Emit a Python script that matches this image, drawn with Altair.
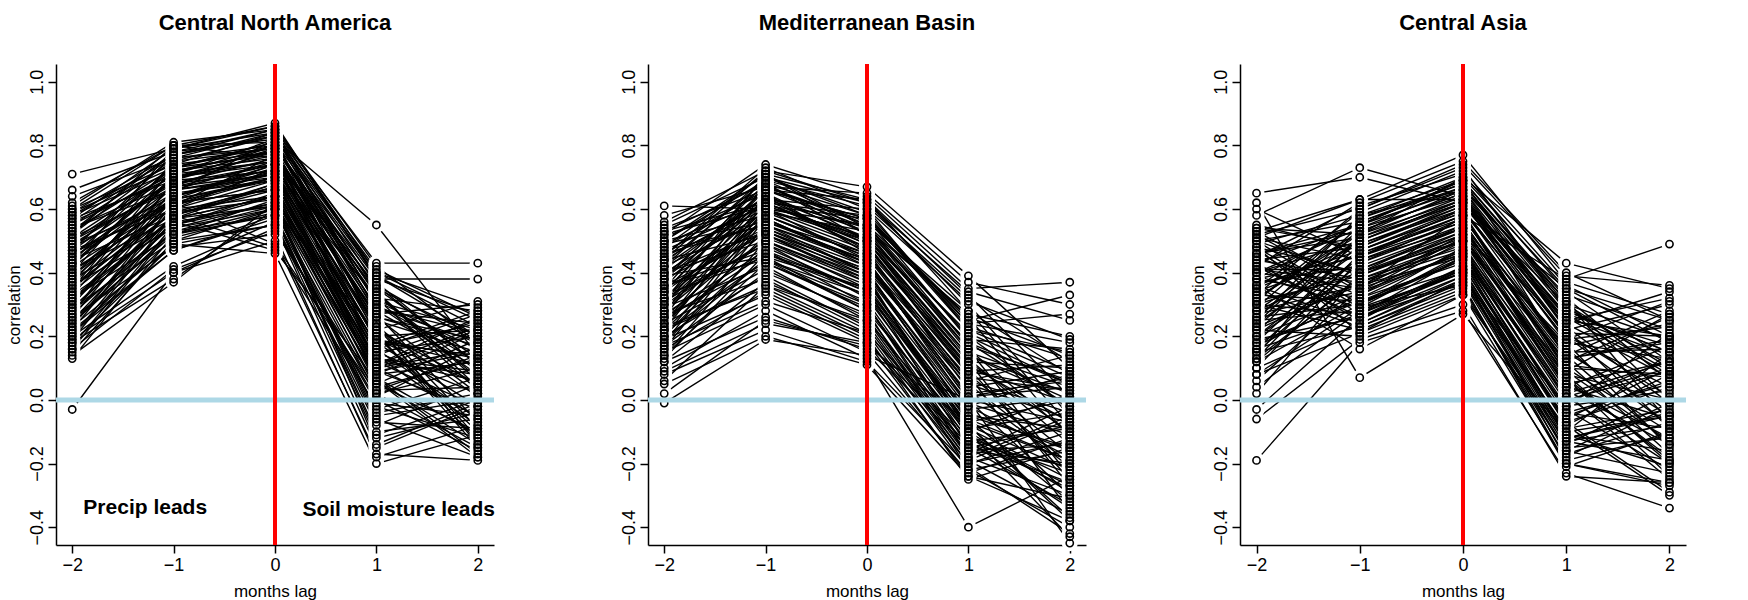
import altair as alt
import pandas as pd

LAGS = [-2, -1, 0, 1, 2]
TITLES = ["Central North America", "Mediterranean Basin", "Central Asia"]
Y_TICKS = [-0.4, -0.2, 0.0, 0.2, 0.4, 0.6, 0.8, 1.0]

# each row: correlation at lags -2, -1, 0, 1, 2 (one ensemble member)
CNA = [
    [0.71, 0.79, 0.84, 0.30, 0.12], [0.66, 0.78, 0.82, 0.22, 0.05], [0.64, 0.76, 0.80, 0.35, 0.20],
    [0.62, 0.80, 0.86, 0.40, 0.25], [0.61, 0.81, 0.85, 0.43, 0.43], [0.60, 0.74, 0.78, 0.18, -0.02],
    [0.59, 0.77, 0.83, 0.28, 0.10], [0.58, 0.72, 0.76, 0.12, 0.08], [0.57, 0.79, 0.87, 0.38, 0.38],
    [0.56, 0.70, 0.74, 0.25, 0.15], [0.55, 0.75, 0.79, 0.05, -0.10], [0.54, 0.68, 0.72, 0.32, 0.28],
    [0.53, 0.73, 0.77, 0.15, 0.02], [0.52, 0.80, 0.81, 0.20, 0.22], [0.51, 0.66, 0.70, 0.10, -0.05],
    [0.50, 0.71, 0.75, 0.36, 0.18], [0.49, 0.62, 0.49, 0.02, -0.15], [0.48, 0.64, 0.73, 0.27, 0.30],
    [0.47, 0.69, 0.80, 0.33, 0.07], [0.46, 0.62, 0.66, 0.08, 0.12], [0.45, 0.74, 0.84, 0.41, 0.26],
    [0.44, 0.58, 0.48, -0.02, -0.12], [0.43, 0.67, 0.71, 0.19, 0.05], [0.42, 0.72, 0.78, 0.29, 0.21],
    [0.41, 0.60, 0.69, 0.14, -0.08], [0.40, 0.65, 0.82, 0.55, 0.14], [0.39, 0.63, 0.74, 0.22, 0.31],
    [0.38, 0.56, 0.47, 0.06, -0.18], [0.37, 0.70, 0.79, 0.37, 0.11], [0.36, 0.54, 0.60, -0.05, 0.00],
    [0.35, 0.61, 0.72, 0.17, 0.24], [0.34, 0.59, 0.67, 0.09, -0.03], [0.33, 0.68, 0.76, 0.31, 0.16],
    [0.32, 0.52, 0.58, -0.10, -0.06], [0.31, 0.57, 0.64, 0.13, 0.09], [0.30, 0.63, 0.70, 0.24, -0.14],
    [0.29, 0.50, 0.55, -0.15, -0.02], [0.28, 0.60, 0.73, 0.26, 0.19], [0.27, 0.55, 0.62, 0.04, 0.13],
    [0.26, 0.48, 0.52, -0.18, -0.08], [0.25, 0.58, 0.68, 0.16, 0.27], [0.24, 0.53, 0.61, 0.07, -0.17],
    [0.23, 0.49, 0.46, -0.20, -0.11], [0.22, 0.61, 0.77, 0.34, 0.06], [0.21, 0.51, 0.59, 0.01, 0.17],
    [0.20, 0.42, 0.56, -0.12, -0.04], [0.19, 0.40, 0.50, -0.17, -0.19], [0.18, 0.38, 0.60, -0.07, -0.09],
    [0.17, 0.55, 0.65, 0.11, 0.23], [0.16, 0.41, 0.53, 0.03, 0.04], [0.15, 0.50, 0.60, 0.21, -0.13],
    [0.14, 0.37, 0.62, -0.14, -0.01], [0.13, 0.52, 0.63, 0.18, 0.14], [-0.03, 0.40, 0.54, 0.00, -0.16],
    [0.58, 0.76, 0.79, 0.23, 0.01], [0.55, 0.71, 0.82, 0.39, 0.20], [0.53, 0.78, 0.85, 0.30, 0.08],
    [0.50, 0.67, 0.74, 0.14, 0.25], [0.48, 0.73, 0.81, 0.27, -0.07], [0.46, 0.65, 0.69, 0.10, 0.16],
    [0.44, 0.70, 0.77, 0.32, 0.03], [0.42, 0.62, 0.66, 0.05, 0.19], [0.40, 0.75, 0.83, 0.40, 0.29],
    [0.38, 0.64, 0.71, 0.20, -0.10], [0.36, 0.59, 0.63, 0.08, 0.21], [0.34, 0.71, 0.80, 0.35, 0.13],
    [0.32, 0.57, 0.68, 0.12, -0.02], [0.30, 0.66, 0.75, 0.28, 0.24], [0.28, 0.53, 0.58, -0.03, 0.07],
    [0.26, 0.64, 0.72, 0.23, -0.12], [0.24, 0.56, 0.61, 0.02, 0.10], [0.22, 0.47, 0.57, -0.08, 0.05],
    [0.20, 0.58, 0.66, 0.15, 0.20], [0.18, 0.49, 0.55, -0.01, -0.05], [0.16, 0.54, 0.62, 0.09, 0.15],
    [0.60, 0.80, 0.76, 0.26, 0.02], [0.57, 0.69, 0.72, 0.17, 0.28], [0.52, 0.76, 0.84, 0.36, 0.11],
    [0.47, 0.60, 0.64, 0.06, -0.14], [0.43, 0.79, 0.86, 0.42, 0.18],
    [0.59, 0.73, 0.80, 0.31, 0.22], [0.56, 0.77, 0.83, 0.34, 0.04], [0.54, 0.66, 0.71, 0.11, 0.26],
    [0.51, 0.72, 0.78, 0.24, -0.09], [0.49, 0.68, 0.74, 0.19, 0.13], [0.47, 0.77, 0.85, 0.39, 0.23],
    [0.45, 0.63, 0.69, 0.07, -0.11], [0.43, 0.70, 0.75, 0.26, 0.17], [0.41, 0.57, 0.61, -0.04, 0.02],
    [0.39, 0.67, 0.79, 0.33, 0.09], [0.37, 0.61, 0.70, 0.16, -0.06], [0.35, 0.73, 0.81, 0.38, 0.27],
    [0.33, 0.55, 0.64, 0.03, 0.14], [0.31, 0.64, 0.74, 0.21, -0.15], [0.29, 0.58, 0.67, 0.13, 0.06],
    [0.27, 0.69, 0.78, 0.29, 0.18], [0.25, 0.52, 0.60, -0.06, -0.18], [0.23, 0.62, 0.70, 0.19, 0.11],
    [0.21, 0.47, 0.58, -0.11, 0.00], [0.19, 0.57, 0.64, 0.10, 0.22],
]

MED = [
    [0.61, 0.60, 0.55, 0.20, 0.05], [0.56, 0.72, 0.67, 0.39, 0.10], [0.55, 0.70, 0.62, 0.30, -0.05],
    [0.53, 0.68, 0.58, 0.25, 0.33], [0.52, 0.74, 0.64, 0.35, 0.37], [0.51, 0.65, 0.50, 0.12, -0.10],
    [0.50, 0.58, 0.45, 0.05, -0.20], [0.49, 0.63, 0.60, 0.22, 0.15], [0.48, 0.71, 0.52, 0.18, -0.02],
    [0.47, 0.55, 0.40, -0.05, -0.15], [0.46, 0.67, 0.56, 0.28, 0.08], [0.45, 0.60, 0.48, 0.10, -0.25],
    [0.44, 0.52, 0.38, -0.10, 0.02], [0.43, 0.69, 0.61, 0.32, 0.12], [0.42, 0.57, 0.43, 0.00, -0.30],
    [0.41, 0.64, 0.53, 0.15, 0.04], [0.40, 0.50, 0.35, -0.15, -0.08], [0.39, 0.66, 0.57, 0.26, -0.12],
    [0.38, 0.54, 0.42, 0.02, 0.06], [0.37, 0.62, 0.49, 0.08, -0.35], [0.36, 0.47, 0.30, -0.18, -0.05],
    [0.35, 0.70, 0.59, 0.24, 0.27], [0.34, 0.56, 0.44, -0.02, -0.18], [0.33, 0.45, 0.28, -0.22, -0.40],
    [0.32, 0.61, 0.51, 0.14, 0.00], [0.31, 0.49, 0.36, -0.08, -0.22], [0.30, 0.65, 0.46, 0.06, 0.14],
    [0.29, 0.42, 0.25, -0.12, -0.28], [0.28, 0.59, 0.47, 0.11, -0.07], [0.27, 0.38, 0.22, -0.20, -0.10],
    [0.26, 0.53, 0.41, 0.04, 0.09], [0.25, 0.46, 0.33, -0.06, -0.32], [0.24, 0.63, 0.54, 0.20, -0.03],
    [0.23, 0.35, 0.20, -0.25, -0.15], [0.22, 0.51, 0.39, -0.03, 0.01], [0.21, 0.44, 0.31, -0.14, -0.26],
    [0.20, 0.58, 0.45, 0.09, 0.11], [0.19, 0.33, 0.18, -0.24, -0.38], [0.18, 0.48, 0.34, -0.09, -0.04],
    [0.17, 0.40, 0.27, -0.16, -0.20], [0.16, 0.55, 0.43, 0.07, 0.03], [0.15, 0.30, 0.15, -0.23, -0.12],
    [0.14, 0.43, 0.29, -0.11, -0.27], [0.12, 0.37, 0.24, -0.19, -0.06], [0.10, 0.28, 0.13, -0.40, -0.24],
    [0.08, 0.22, 0.12, -0.21, -0.42], [0.06, 0.36, 0.21, -0.13, -0.09], [0.05, 0.20, 0.11, -0.24, -0.31],
    [-0.01, 0.19, 0.14, 0.00, -0.45], [0.02, 0.25, 0.17, -0.07, -0.19], [0.54, 0.66, 0.63, 0.28, -0.08],
    [0.50, 0.69, 0.55, 0.17, 0.06], [0.47, 0.61, 0.51, 0.13, -0.14], [0.45, 0.73, 0.60, 0.31, 0.19],
    [0.42, 0.64, 0.47, 0.03, -0.21], [0.40, 0.59, 0.53, 0.21, 0.07], [0.38, 0.68, 0.50, 0.10, -0.01],
    [0.36, 0.52, 0.37, -0.04, -0.16], [0.34, 0.66, 0.57, 0.19, 0.16], [0.32, 0.49, 0.32, -0.10, -0.29],
    [0.30, 0.60, 0.44, 0.01, 0.04], [0.28, 0.54, 0.40, -0.01, -0.11], [0.26, 0.68, 0.52, 0.16, -0.24],
    [0.24, 0.41, 0.26, -0.17, -0.02], [0.22, 0.62, 0.48, 0.12, 0.10], [0.20, 0.39, 0.23, -0.19, -0.36],
    [0.18, 0.57, 0.42, 0.05, -0.06], [0.16, 0.34, 0.19, -0.20, -0.13], [0.14, 0.50, 0.37, -0.07, 0.00],
    [0.12, 0.26, 0.16, -0.15, -0.33], [0.58, 0.67, 0.65, 0.37, 0.30], [0.53, 0.62, 0.58, 0.23, 0.13],
    [0.49, 0.56, 0.46, 0.08, -0.17], [0.44, 0.72, 0.62, 0.34, 0.25], [0.39, 0.45, 0.35, -0.05, -0.09],
    [0.35, 0.53, 0.39, -0.12, -0.23], [0.31, 0.71, 0.54, 0.27, 0.20], [0.27, 0.47, 0.34, -0.08, -0.38],
    [0.23, 0.60, 0.50, 0.14, 0.02], [0.19, 0.44, 0.28, -0.10, -0.43],
    [0.52, 0.61, 0.57, 0.24, 0.18], [0.50, 0.71, 0.63, 0.33, 0.01], [0.48, 0.66, 0.54, 0.16, -0.11],
    [0.46, 0.55, 0.44, 0.01, 0.07], [0.44, 0.62, 0.50, 0.12, -0.27], [0.42, 0.70, 0.58, 0.22, 0.09],
    [0.40, 0.53, 0.41, -0.06, -0.19], [0.38, 0.63, 0.49, 0.09, 0.03], [0.36, 0.44, 0.33, -0.13, -0.34],
    [0.34, 0.67, 0.55, 0.26, 0.14], [0.32, 0.57, 0.43, 0.00, -0.07], [0.30, 0.50, 0.38, -0.09, -0.25],
    [0.28, 0.64, 0.51, 0.18, 0.05], [0.26, 0.43, 0.30, -0.16, -0.14], [0.24, 0.58, 0.46, 0.06, -0.04],
    [0.22, 0.36, 0.25, -0.18, -0.30], [0.20, 0.52, 0.40, -0.02, 0.08], [0.17, 0.31, 0.21, -0.22, -0.16],
    [0.13, 0.46, 0.35, -0.08, -0.37], [0.09, 0.24, 0.18, -0.14, -0.21],
]

CAS = [
    [0.65, 0.70, 0.62, 0.30, 0.10], [0.62, 0.07, 0.27, -0.10, -0.05], [0.60, 0.45, 0.60, 0.15, -0.05],
    [0.58, 0.73, 0.64, 0.25, 0.20], [0.54, 0.52, 0.70, 0.43, 0.35], [0.53, 0.35, 0.58, 0.38, 0.49],
    [0.52, 0.60, 0.73, 0.28, 0.15], [0.51, 0.44, 0.56, 0.10, -0.10], [0.50, 0.30, 0.48, 0.05, 0.12],
    [0.49, 0.58, 0.66, 0.33, 0.22], [0.48, 0.40, 0.52, 0.18, -0.15], [0.47, 0.27, 0.45, -0.02, 0.03],
    [0.46, 0.55, 0.69, 0.22, 0.30], [0.45, 0.33, 0.50, 0.08, -0.20], [0.44, 0.48, 0.61, 0.35, 0.18],
    [0.43, 0.25, 0.42, -0.08, 0.08], [0.42, 0.62, 0.75, 0.40, 0.25], [0.41, 0.37, 0.47, 0.02, -0.25],
    [0.40, 0.50, 0.63, 0.26, 0.14], [0.39, 0.29, 0.40, -0.12, -0.05], [0.38, 0.56, 0.67, 0.31, 0.00],
    [0.37, 0.42, 0.54, 0.12, 0.26], [0.36, 0.24, 0.38, -0.15, -0.12], [0.35, 0.59, 0.72, 0.36, 0.20],
    [0.34, 0.46, 0.57, 0.16, -0.08], [0.33, 0.31, 0.44, -0.05, 0.06], [0.32, 0.53, 0.65, 0.24, 0.34],
    [0.31, 0.39, 0.51, 0.06, -0.18], [0.30, 0.22, 0.35, -0.18, -0.02], [0.29, 0.57, 0.68, 0.29, 0.11],
    [0.28, 0.43, 0.55, 0.14, 0.28], [0.27, 0.34, 0.46, -0.03, -0.22], [0.26, 0.51, 0.62, 0.20, 0.04],
    [0.25, 0.28, 0.41, -0.10, 0.15], [0.24, 0.47, 0.59, 0.09, -0.13], [0.23, 0.36, 0.49, 0.00, 0.09],
    [0.22, 0.20, 0.33, -0.20, -0.27], [0.21, 0.54, 0.64, 0.27, 0.17], [0.20, 0.41, 0.53, 0.04, -0.06],
    [0.19, 0.26, 0.39, -0.14, 0.02], [0.18, 0.49, 0.60, 0.19, 0.23], [0.17, 0.32, 0.43, -0.07, -0.29],
    [0.16, 0.45, 0.56, 0.11, 0.07], [0.15, 0.23, 0.36, -0.21, -0.10], [0.14, 0.52, 0.63, 0.23, -0.01],
    [0.13, 0.38, 0.48, -0.01, 0.13], [0.12, 0.30, 0.44, -0.11, -0.16], [0.10, 0.44, 0.54, 0.13, 0.19],
    [0.08, 0.21, 0.34, -0.16, -0.23], [0.06, 0.35, 0.46, -0.04, 0.05], [0.04, 0.28, 0.40, -0.19, -0.11],
    [0.02, 0.40, 0.50, 0.07, -0.19], [-0.03, 0.26, 0.37, -0.09, -0.03], [-0.06, 0.19, 0.30, -0.24, -0.26],
    [-0.19, 0.18, 0.28, -0.23, -0.34], [0.36, 0.16, 0.33, -0.13, -0.08], [0.55, 0.47, 0.59, 0.21, 0.01],
    [0.50, 0.39, 0.53, 0.17, 0.24], [0.45, 0.61, 0.71, 0.34, 0.12], [0.40, 0.35, 0.52, 0.03, -0.14],
    [0.35, 0.49, 0.61, 0.25, 0.32], [0.30, 0.27, 0.42, -0.06, 0.10], [0.25, 0.58, 0.69, 0.32, 0.06],
    [0.20, 0.33, 0.47, 0.01, -0.20], [0.15, 0.43, 0.57, 0.15, 0.16], [0.10, 0.24, 0.39, -0.17, -0.07],
    [0.53, 0.63, 0.77, 0.37, 0.27], [0.48, 0.21, 0.38, -0.02, 0.21], [0.43, 0.55, 0.66, 0.22, -0.09],
    [0.38, 0.45, 0.58, 0.10, 0.08], [0.33, 0.60, 0.74, 0.39, 0.36], [0.28, 0.36, 0.45, -0.08, -0.30],
    [0.23, 0.50, 0.62, 0.18, 0.13], [0.18, 0.31, 0.41, -0.12, -0.04], [0.13, 0.46, 0.58, 0.08, 0.00],
    [0.08, 0.29, 0.36, -0.20, -0.26], [0.51, 0.63, 0.63, 0.27, 0.09], [0.46, 0.53, 0.65, 0.13, 0.18],
    [0.41, 0.41, 0.54, 0.05, -0.12], [0.31, 0.57, 0.70, 0.35, 0.25],
    [0.54, 0.48, 0.62, 0.24, 0.07], [0.52, 0.34, 0.51, 0.12, -0.17], [0.50, 0.56, 0.68, 0.30, 0.19],
    [0.48, 0.29, 0.46, 0.01, 0.10], [0.46, 0.51, 0.64, 0.20, -0.04], [0.44, 0.38, 0.50, 0.09, 0.27],
    [0.42, 0.26, 0.41, -0.11, -0.21], [0.40, 0.54, 0.67, 0.28, 0.15], [0.38, 0.32, 0.47, -0.04, -0.09],
    [0.36, 0.47, 0.60, 0.19, 0.31], [0.34, 0.23, 0.37, -0.16, -0.01], [0.32, 0.52, 0.66, 0.26, 0.08],
    [0.30, 0.40, 0.55, 0.07, -0.24], [0.28, 0.50, 0.63, 0.21, 0.20], [0.26, 0.30, 0.45, -0.07, 0.04],
    [0.24, 0.55, 0.69, 0.31, -0.07], [0.22, 0.37, 0.50, 0.02, 0.12], [0.20, 0.45, 0.58, 0.14, -0.14],
    [0.16, 0.27, 0.40, -0.13, -0.19], [0.12, 0.39, 0.52, 0.04, 0.17],
]

FONT = "Liberation Sans"


def to_long(rows):
    recs = []
    for i, r in enumerate(rows):
        for lag, v in zip(LAGS, r):
            recs.append({"member": i, "lag": lag, "corr": v})
    return pd.DataFrame(recs)


x_scale = alt.Scale(domain=[-2.16, 2.16], nice=False, zero=False)
y_scale = alt.Scale(domain=[-0.456, 1.056], nice=False, zero=False)


def panel(rows, title, width=438, annotate=False):
    df = to_long(rows)
    base = alt.Chart(df)
    x = alt.X("lag:Q", scale=x_scale,
              axis=alt.Axis(values=LAGS, format="d", title="months lag", grid=False,
                            tickSize=8, labelPadding=3, titlePadding=9))
    y = alt.Y("corr:Q", scale=y_scale,
              axis=alt.Axis(values=Y_TICKS, format=".1f", title="correlation", grid=False,
                            tickSize=8, labelPadding=2, labelAngle=270, labelAlign="center",
                            labelBaseline="bottom", minExtent=30, maxExtent=30, titlePadding=3))
    lines = base.mark_line(color="black", strokeWidth=1.4).encode(
        x=x, y=y, detail="member:N", order="lag:Q")
    halo = base.mark_point(shape="circle", filled=True, fill="white", stroke="white",
                           strokeWidth=0, size=260, opacity=1).encode(x="lag:Q", y="corr:Q")
    pts = base.mark_point(shape="circle", filled=False, color="black", size=52,
                          strokeWidth=1.6, opacity=1).encode(x="lag:Q", y="corr:Q")
    ref = pd.DataFrame({"ref": [0]})
    blue = alt.Chart(ref).mark_rule(color="#ADD8E6", strokeWidth=5).encode(y="ref:Q")
    red = alt.Chart(ref).mark_rule(color="#FF0000", strokeWidth=4).encode(x="ref:Q")
    layers = [lines, halo, pts, blue, red]
    if annotate:
        layers.append(alt.Chart(ref).mark_text(font=FONT, fontSize=21, fontWeight="bold",
                                               color="black").encode(
            x=alt.datum(-1.28), y=alt.datum(-0.34), text=alt.value("Precip leads")))
        layers.append(alt.Chart(ref).mark_text(font=FONT, fontSize=21, fontWeight="bold",
                                               color="black").encode(
            x=alt.datum(1.22), y=alt.datum(-0.347), text=alt.value("Soil moisture leads")))
    return alt.layer(*layers).properties(
        width=width, height=481,
        title=alt.TitleParams(title, fontSize=22, fontWeight="bold", font=FONT,
                              anchor="middle", offset=27, color="black"))


chart = alt.hconcat(
    panel(CNA, TITLES[0], annotate=True),
    panel(MED, TITLES[1]),
    panel(CAS, TITLES[2], width=446),
    spacing=100,
).properties(
    padding={"left": 5, "top": 12, "right": 5, "bottom": 5},
    background="white",
).configure_view(stroke=None).configure_axis(
    labelFont=FONT, titleFont=FONT, labelFontSize=18, titleFontSize=17,
    titleFontWeight="normal", labelColor="black", titleColor="black",
    domainColor="black", tickColor="black", domainWidth=1.5, tickWidth=1.5,
)

chart.save("out.html", embed_options={"renderer": "svg", "actions": False})
